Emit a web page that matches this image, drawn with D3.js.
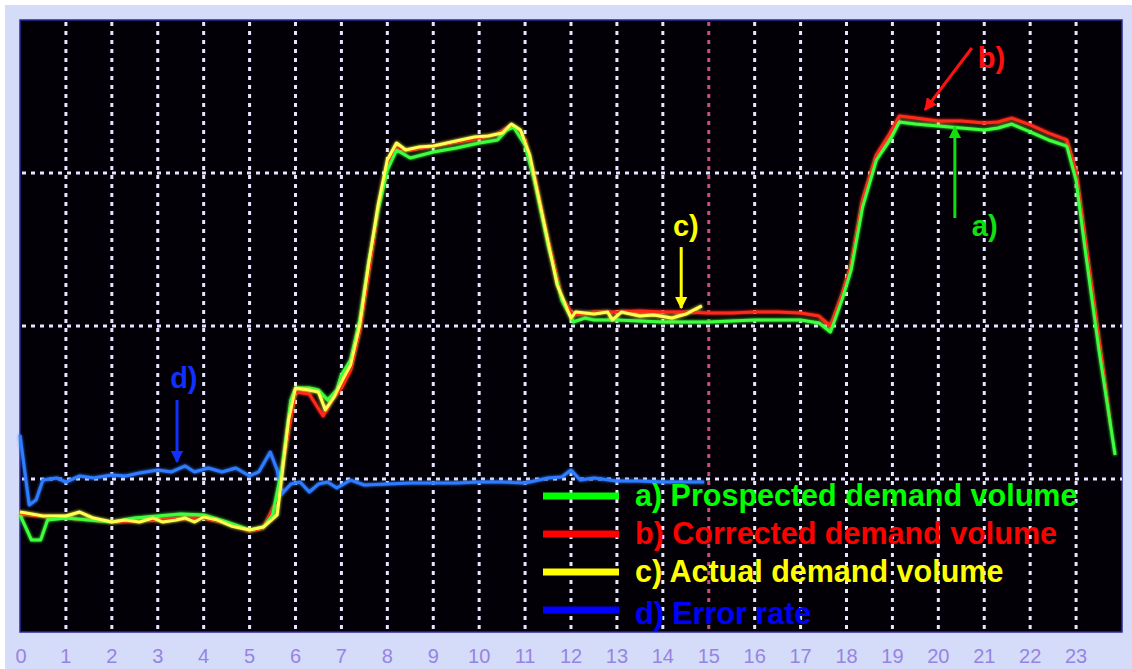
<!DOCTYPE html>
<html>
<head>
<meta charset="utf-8">
<script src="https://cdn.jsdelivr.net/npm/d3@7"></script>
<style>
  html, body { margin: 0; padding: 0; background: #fff; }
  svg { display: block; }
</style>
</head>
<body>
<svg id="chart"></svg>
<script>
// hours of the day on the x axis
var hourTicks = d3.range(0, 24);

// a) prospected demand volume
var prospectedHours = [0, 0.15, 0.25, 0.45, 0.6, 1, 1.5, 2, 2.5, 3, 3.5, 4, 4.5, 5, 5.3, 5.5, 5.7, 5.9, 6.0, 6.3, 6.5, 6.7, 6.9, 7.0, 7.2, 7.4, 7.6, 7.8, 8.0, 8.2, 8.5, 9, 9.5, 10, 10.4, 10.6, 10.75, 11, 11.2, 11.5, 11.8, 12.05, 12.3, 12.5, 13, 13.5, 14, 14.5, 15, 15.5, 16, 16.5, 17, 17.4, 17.65, 17.9, 18.1, 18.35, 18.65, 18.95, 19.15, 19.5, 20, 20.5, 21, 21.3, 21.6, 22, 22.4, 22.8, 23, 23.2, 23.5, 23.7, 23.85];
var prospectedValues = [76.5, 66.7, 60.1, 60.1, 73.2, 74.5, 73.2, 71.9, 74.5, 75.8, 77.1, 76.5, 71.9, 66.7, 68.6, 76.5, 105.9, 151.6, 159.5, 159.5, 158.2, 151.6, 158.2, 168, 177.8, 203.9, 243.1, 275.8, 302, 315, 309.8, 313.7, 316.3, 319.6, 321.6, 328.1, 330.1, 318.3, 295.4, 252.9, 217, 202.6, 205.2, 203.9, 203.9, 203.3, 202.6, 202.6, 202.6, 203.3, 203.9, 203.9, 203.9, 202, 196.1, 217, 236.6, 277.8, 308.5, 321.6, 333.3, 332, 330.7, 329.4, 328.1, 329.4, 332, 326.8, 321.6, 317.6, 295.4, 249.7, 184.3, 145.1, 115.7];

// b) corrected demand volume
var correctedHours = [0, 1, 2, 3, 4, 4.6, 5, 5.3, 5.6, 5.85, 6.0, 6.3, 6.45, 6.6, 6.8, 7.0, 7.2, 7.4, 7.6, 7.8, 8.0, 8.2, 8.5, 9, 9.5, 10, 10.4, 10.7, 11, 11.2, 11.5, 11.8, 12.05, 12.5, 13, 13.5, 14, 14.5, 15, 15.5, 16, 16.5, 17, 17.4, 17.65, 17.9, 18.1, 18.35, 18.65, 18.95, 19.15, 19.5, 20, 20.5, 21, 21.3, 21.6, 22, 22.4, 22.8, 23, 23.2, 23.5, 23.75];
var correctedValues = [77.1, 74.5, 71.9, 73.2, 74.5, 70.6, 66.0, 68.0, 86.3, 132, 156.9, 155.6, 148.4, 141.2, 151.6, 159.5, 171.2, 197.4, 236.6, 275.8, 305.2, 316.3, 315, 317.6, 320.3, 322.9, 325.5, 331.4, 321.6, 298.7, 256.2, 218.3, 207.2, 209.2, 209.2, 209.8, 209.2, 209.2, 208.5, 208.5, 209.2, 209.2, 208.5, 206.5, 200, 220.3, 239.9, 282.4, 311.8, 326.1, 337.3, 335.9, 334, 334, 332.7, 333.3, 335.9, 331.4, 326.1, 321.6, 300.7, 256.2, 190.8, 135.3];

// c) actual demand volume (measured up to now)
var actualHours = [0, 0.5, 1, 1.3, 1.6, 2, 2.3, 2.6, 2.9, 3.1, 3.4, 3.6, 3.8, 4, 4.3, 4.6, 5, 5.3, 5.6, 5.85, 6.0, 6.3, 6.5, 6.65, 6.85, 7.0, 7.2, 7.4, 7.6, 7.8, 8.0, 8.2, 8.4, 8.7, 9, 9.3, 9.6, 9.9, 10.2, 10.5, 10.7, 10.9, 11.1, 11.4, 11.7, 12.0, 12.1, 12.5, 12.8, 12.9, 13.1, 13.5, 13.8, 14.2, 14.5, 14.85];
var actualValues = [78.4, 75.8, 75.8, 78.4, 74.5, 71.9, 73.2, 71.9, 74.5, 71.9, 73.2, 74.5, 71.9, 75.2, 73.2, 69.3, 66.7, 68.6, 76.5, 138.6, 159.5, 158.2, 156.9, 145.1, 154.2, 163.4, 174.5, 200.7, 241.8, 279.1, 308.5, 319.6, 315, 317, 317.6, 319.6, 321.6, 323.5, 324.2, 326.1, 332, 328.1, 311.8, 269.3, 226.8, 205.2, 209.2, 207.8, 209.2, 203.9, 209.2, 206.5, 207.2, 205.2, 207.8, 213.1];

// d) error rate
var errorHours = [0, 0.1, 0.2, 0.35, 0.5, 0.8, 1, 1.3, 1.6, 2, 2.3, 2.6, 3, 3.3, 3.6, 3.8, 4.1, 4.4, 4.7, 5, 5.2, 5.45, 5.6, 5.7, 5.9, 6.1, 6.3, 6.5, 6.7, 6.9, 7.2, 7.5, 8, 8.5, 9, 9.5, 10, 10.5, 11, 11.5, 11.8, 12, 12.2, 12.5, 13, 13.5, 14, 14.5, 14.9];
var errorValues = [128.8, 105.9, 83, 86.3, 99.3, 100.7, 98, 102, 100.7, 102.6, 102, 103.9, 105.9, 104.6, 108.5, 104.6, 107.2, 104.6, 107.2, 102, 104.6, 117.6, 105.9, 90.2, 96.7, 98, 91.5, 96.7, 98, 94.1, 99.3, 96.1, 96.7, 97.4, 97.4, 97.4, 98, 98, 97.4, 100.7, 101.3, 105.9, 99.3, 100.7, 98.7, 98.7, 98, 98, 98];

var seriesNames = ['a) Prospected demand volume', 'b) Corrected demand volume', 'c) Actual demand volume', 'd) Error rate'];
var legendColors = ['#00ff00', '#ff0000', '#ffff00', '#0000ff'];
var lineColors = ['#3cff3c', '#ff2a1a', '#ffff50', '#2f7bff'];

// callouts: label, text anchor, arrow tail and arrow tip in [hour, value]
var calloutLabels = ['b)', 'a)', 'c)', 'd)'];
var calloutColors = ['#ff1010', '#10e010', '#ffff00', '#1030ff'];
var calloutText = [[20.86, 368.6], [20.73, 258.8], [14.22, 258.8], [3.27, 159.5]];
var calloutTail = [[20.73, 381.7], [20.36, 270.6], [14.4, 251.6], [3.42, 151.6]];
var calloutTip = [[19.71, 341.2], [20.36, 330.1], [14.4, 211.8], [3.42, 111.1]];

var width = 1132, height = 669;
var svg = d3.select('#chart').attr('width', width).attr('height', height);

var x = d3.scaleLinear().domain([0, 24]).range([20, 1122]);
var y = d3.scaleLinear().domain([0, 400]).range([632, 20]);

var defs = svg.append('defs');
var glow = defs.append('filter').attr('id', 'glow')
	.attr('x', '-5%').attr('y', '-5%').attr('width', '110%').attr('height', '110%');
glow.append('feGaussianBlur').attr('stdDeviation', 1.8).attr('result', 'b');
var merge = glow.append('feMerge');
merge.append('feMergeNode').attr('in', 'b');
merge.append('feMergeNode').attr('in', 'SourceGraphic');

calloutColors.forEach(function(c, i) {
	defs.append('marker')
		.attr('id', 'head' + i)
		.attr('viewBox', '0 0 10 10')
		.attr('refX', 9).attr('refY', 5)
		.attr('markerWidth', 4.2).attr('markerHeight', 4.2)
		.attr('markerUnits', 'strokeWidth')
		.attr('orient', 'auto')
		.append('path')
		.attr('d', 'M0,0 L10,5 L0,10 Z')
		.attr('fill', c);
});

// frame
svg.append('rect').attr('x', 5).attr('y', 5).attr('width', width - 5).attr('height', height - 5)
	.attr('fill', '#d4dcfa');
svg.append('rect')
	.attr('x', x(0)).attr('y', y(400))
	.attr('width', x(24) - x(0)).attr('height', y(0) - y(400))
	.attr('fill', '#020006')
	.attr('stroke', '#2a2a9a').attr('stroke-width', 1.5);

// dotted grid
var grid = svg.append('g');
grid.selectAll('.vgrid').data(d3.range(1, 24))
	.enter().append('line')
	.attr('x1', function(d) { return x(d); })
	.attr('x2', function(d) { return x(d); })
	.attr('y1', y(400) + 2).attr('y2', y(0))
	.attr('stroke', function(d) { return d === 15 ? '#c8507a' : '#e6e4ff'; })
	.attr('stroke-width', 3)
	.attr('stroke-dasharray', '4,5');
grid.selectAll('.hgrid').data([100, 200, 300])
	.enter().append('line')
	.attr('x1', x(0) + 2).attr('x2', x(24))
	.attr('y1', function(d) { return y(d); })
	.attr('y2', function(d) { return y(d); })
	.attr('stroke', '#e6e4ff')
	.attr('stroke-width', 3)
	.attr('stroke-dasharray', '4,5');

// hour labels
svg.selectAll('.hour').data(hourTicks)
	.enter().append('text')
	.attr('x', function(d) { return x(d) + (d === 0 ? 1 : 0); })
	.attr('y', 663)
	.attr('text-anchor', 'middle')
	.attr('font-family', 'Liberation Sans, Arial, sans-serif')
	.attr('font-size', 20)
	.attr('fill', '#9784e0')
	.text(function(d) { return d; });

// series
var line = d3.line()
	.x(function(d) { return x(d[0]); })
	.y(function(d) { return y(d[1]); });

var series = [
	d3.zip(prospectedHours, prospectedValues),
	d3.zip(correctedHours, correctedValues),
	d3.zip(actualHours, actualValues),
	d3.zip(errorHours, errorValues)
];
var drawOrder = [3, 1, 0, 2];

var lines = svg.append('g').attr('filter', 'url(#glow)');
drawOrder.forEach(function(i) {
	lines.append('path')
		.datum(series[i])
		.attr('d', line)
		.attr('fill', 'none')
		.attr('stroke', lineColors[i])
		.attr('stroke-width', 3)
		.attr('stroke-linejoin', 'round');
});

// callouts
calloutLabels.forEach(function(lab, i) {
	svg.append('line')
		.attr('x1', x(calloutTail[i][0])).attr('y1', y(calloutTail[i][1]))
		.attr('x2', x(calloutTip[i][0])).attr('y2', y(calloutTip[i][1]))
		.attr('stroke', calloutColors[i])
		.attr('stroke-width', 3)
		.attr('marker-end', 'url(#head' + i + ')');
	svg.append('text')
		.attr('x', x(calloutText[i][0])).attr('y', y(calloutText[i][1]))
		.attr('font-family', 'Liberation Sans, Arial, sans-serif')
		.attr('font-weight', 'bold')
		.attr('font-size', 29)
		.attr('fill', calloutColors[i])
		.text(lab);
});

// legend
var legendRowY = [496, 534, 572, 610];
var legend = svg.append('g');
seriesNames.forEach(function(name, i) {
	legend.append('line')
		.attr('x1', 543).attr('x2', 619)
		.attr('y1', legendRowY[i]).attr('y2', legendRowY[i])
		.attr('stroke', legendColors[i])
		.attr('stroke-width', 7);
	legend.append('text')
		.attr('x', 635).attr('y', legendRowY[i] + 10 + (i === 3 ? 4 : 0))
		.attr('font-family', 'Liberation Sans, Arial, sans-serif')
		.attr('font-weight', 'bold')
		.attr('font-size', 30.5)
		.attr('fill', legendColors[i])
		.text(name);
});
</script>
</body>
</html>
